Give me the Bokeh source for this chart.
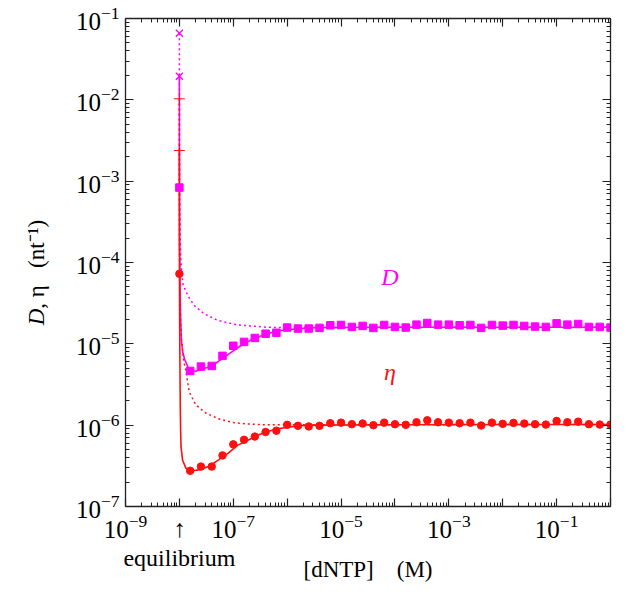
import numpy as np
from bokeh.plotting import figure
from bokeh.models import (LogAxis, FixedTicker, Label, Range1d, CustomJSTickFormatter)
from bokeh.embed import file_html
from bokeh.resources import INLINE

# ---------------- data ----------------
EQ = 1e-8  # equilibrium [dNTP] (M)

data_logx = [-8.0, -7.8, -7.6, -7.4, -7.2, -7.0, -6.8, -6.6, -6.4, -6.2, -6.0,
             -5.8, -5.6, -5.4, -5.2, -5.0, -4.8, -4.6, -4.4, -4.2, -4.0,
             -3.8, -3.6, -3.4, -3.2, -3.0, -2.8, -2.6, -2.4, -2.2, -2.0,
             -1.8, -1.6, -1.4, -1.2, -1.0, -0.8, -0.6, -0.4, -0.2, 0.0]
D_logy = [-3.079, -5.333, -5.280, -5.272, -5.148, -5.024, -4.976, -4.928, -4.876, -4.864, -4.800,
          -4.812, -4.812, -4.804, -4.772, -4.768, -4.792, -4.780, -4.804, -4.768, -4.792,
          -4.800, -4.764, -4.744, -4.764, -4.764, -4.772, -4.768, -4.804, -4.768, -4.776,
          -4.768, -4.780, -4.788, -4.792, -4.748, -4.764, -4.756, -4.792, -4.792, -4.800]
eta_logy = [-4.139, -6.561, -6.509, -6.509, -6.372, -6.236, -6.180, -6.140, -6.084, -6.068, -5.996,
            -6.008, -6.016, -6.008, -5.976, -5.969, -5.988, -5.980, -6.000, -5.969, -5.988,
            -5.996, -5.964, -5.940, -5.964, -5.969, -5.976, -5.969, -6.004, -5.969, -5.984,
            -5.972, -5.980, -5.988, -5.993, -5.948, -5.964, -5.957, -5.988, -5.993, -5.993]

D_eq_marks = [6.58e-2, 1.95e-2]
eta_eq_marks = [1.03e-2, 2.38e-3]

D_solid_x = [1.0e-8, 1.0003e-8, 1.001e-8, 1.003e-8, 1.01e-8, 1.02e-8, 1.035e-8, 1.05e-8,
             1.087e-8, 1.15e-8, 1.246e-8, 1.53e-8, 2.02e-8, 2.63e-8, 3.98e-8, 6.03e-8,
             1.05e-7, 1.59e-7, 2.41e-7, 4.19e-7, 7.26e-7, 1.27e-6, 2.52e-6, 4.40e-6,
             1e-4, 1e-2, 1.0]
D_solid_y = [1.95e-2, 6.7e-3, 2.0e-3, 6.7e-4, 2.0e-4, 8.5e-5, 3.8e-5, 2.2e-5,
             1.13e-5, 8.0e-6, 6.5e-6, 4.7e-6, 4.61e-6, 4.91e-6, 5.30e-6, 6.49e-6,
             8.39e-6, 1.01e-5, 1.16e-5, 1.33e-5, 1.46e-5, 1.51e-5, 1.57e-5, 1.585e-5,
             1.60e-5, 1.60e-5, 1.60e-5]
D_dot_x = [1.0e-8, 1.0003e-8, 1.001e-8, 1.003e-8, 1.01e-8, 1.03e-8, 1.06e-8, 1.1e-8,
           1.166e-8, 1.435e-8, 1.89e-8, 2.86e-8, 4.98e-8, 1.14e-7, 2.09e-7, 4.19e-7,
           8.37e-7, 1e-4, 1e-2, 1.0]
D_dot_y = [6.58e-2, 2.1e-2, 6.3e-3, 2.1e-3, 6.4e-4, 2.2e-4, 1.2e-4, 7.8e-5,
           5.4e-5, 3.9e-5, 2.96e-5, 2.35e-5, 1.96e-5, 1.71e-5, 1.66e-5, 1.60e-5,
           1.585e-5, 1.60e-5, 1.60e-5, 1.60e-5]
eta_solid_x = [1.0e-8, 1.0003e-8, 1.001e-8, 1.003e-8, 1.01e-8, 1.02e-8, 1.03e-8, 1.04e-8,
               1.055e-8, 1.073e-8, 1.147e-8, 1.32e-8, 1.74e-8, 2.29e-8, 3.48e-8, 5.26e-8,
               7.96e-8, 1.20e-7, 1.82e-7, 2.76e-7, 4.19e-7, 6.34e-7, 9.59e-7, 1.67e-6,
               3.33e-6, 1e-4, 1e-2, 1.0]
eta_solid_y = [2.38e-3, 8.0e-4, 2.4e-4, 8.0e-5, 2.4e-5, 8.0e-6, 3.2e-6, 1.6e-6,
               8.5e-7, 5.4e-7, 3.7e-7, 2.96e-7, 2.75e-7, 2.82e-7, 3.10e-7, 3.72e-7,
               4.49e-7, 5.64e-7, 6.47e-7, 7.45e-7, 8.32e-7, 8.95e-7, 9.35e-7, 9.82e-7,
               1.0e-6, 1.01e-6, 1.02e-6, 1.02e-6]
eta_dot_x = [1.0e-8, 1.0003e-8, 1.001e-8, 1.003e-8, 1.01e-8, 1.03e-8, 1.06e-8, 1.1e-8,
             1.2e-8, 1.337e-8, 1.515e-8, 2.0e-8, 3.03e-8, 5.26e-8, 1.05e-7, 2.09e-7,
             4.19e-7, 1e-4, 1e-2, 1.0]
eta_dot_y = [1.03e-2, 3.3e-3, 1.0e-3, 3.3e-4, 1.0e-4, 3.4e-5, 1.75e-5, 1.1e-5,
             6.2e-6, 4.49e-6, 2.58e-6, 1.79e-6, 1.42e-6, 1.20e-6, 1.07e-6, 1.03e-6,
             1.01e-6, 1.01e-6, 1.02e-6, 1.02e-6]

x_decades = [1e-9, 1e-8, 1e-7, 1e-6, 1e-5, 1e-4, 1e-3, 1e-2, 1e-1, 1.0]
x_unlabeled = [1e-6, 1e-4, 1e-2, 1.0]
y_decades = [1e-7, 1e-6, 1e-5, 1e-4, 1e-3, 1e-2, 1e-1]
mantissas = [2, 3, 4, 5, 6, 7, 8, 9]
x_title = "[dNTP]\u00a0\u00a0\u00a0\u00a0(M)"
eq_text = "equilibrium"
eq_arrow = "\u2191"

# ---------------- layout (canvas pixels) ----------------
FL, FR, FT, BOTTOM = 125, 610, 18, 77
W, H = 612, 584


def rx(px):  # reference-picture x pixel -> data
    return 10 ** (-9 + (px - 124.7) / 55.5)


def ry(py):  # reference-picture y pixel -> data
    return 10 ** (-1 - (py - 17.8) / 83.3)


SERIF = "Liberation Serif"
MAG = "#ff00ff"
RED = "#ff1010"
INK = "#222222"

p = figure(width=W, height=H, x_axis_type="log", y_axis_type="log",
           x_range=Range1d(1e-9, 1.0), y_range=Range1d(1e-7, 1e-1),
           output_backend="svg", toolbar_location=None,
           min_border_left=FL, min_border_right=W - FR,
           min_border_top=FT, min_border_bottom=BOTTOM)
p.xgrid.visible = False
p.ygrid.visible = False
p.outline_line_color = None
p.background_fill_color = "white"
p.border_fill_color = "white"

x_minor = [m * d for d in x_decades[:-1] for m in mantissas]
y_minor = [m * d for d in y_decades[:-1] for m in mantissas]


def style_axis(ax, labels=True):
    ax.axis_line_color = INK
    ax.axis_line_width = 1.3
    ax.major_tick_line_color = INK
    ax.minor_tick_line_color = INK
    ax.major_tick_line_width = 1.2
    ax.minor_tick_line_width = 1.0
    ax.major_tick_in = 8
    ax.major_tick_out = 0
    ax.minor_tick_in = 4
    ax.minor_tick_out = 0
    ax.major_label_text_font = SERIF
    ax.major_label_text_color = "black"
    if labels:
        ax.major_label_text_font_size = "25px"
    else:
        ax.formatter = CustomJSTickFormatter(code="return '';")
        ax.major_label_text_font_size = "1px"
        ax.major_label_standoff = 0


xa = p.xaxis[0]
xa.ticker = FixedTicker(ticks=x_decades, minor_ticks=x_minor)
style_axis(xa)
xa.major_label_standoff = 8
overrides = {v: " " for v in x_unlabeled}
overrides[EQ] = eq_arrow
xa.major_label_overrides = overrides

# second, bare axis under the first: the word "equilibrium" and the axis title
eqax = LogAxis(ticker=FixedTicker(ticks=[EQ], minor_ticks=[]))
eqax.axis_line_color = None
eqax.minor_tick_line_color = None
eqax.major_tick_line_color = None
eqax.major_tick_in = 0
eqax.major_tick_out = 0
eqax.major_label_overrides = {EQ: eq_text}
eqax.major_label_text_font = SERIF
eqax.major_label_text_font_size = "24px"
eqax.major_label_text_color = "black"
eqax.major_label_standoff = 0
eqax.axis_label = x_title
eqax.axis_label_text_font = SERIF
eqax.axis_label_text_font_style = "normal"
eqax.axis_label_text_font_size = "23px"
eqax.axis_label_text_color = "black"
eqax.axis_label_standoff = -17
p.add_layout(eqax, "below")

ya = p.yaxis[0]
ya.ticker = FixedTicker(ticks=y_decades, minor_ticks=y_minor)
style_axis(ya)
ya.major_label_standoff = 6

top = LogAxis(ticker=FixedTicker(ticks=x_decades, minor_ticks=x_minor))
style_axis(top, labels=False)
p.add_layout(top, "above")
right = LogAxis(ticker=FixedTicker(ticks=y_decades, minor_ticks=y_minor))
style_axis(right, labels=False)
p.add_layout(right, "right")

# ---------------- curves ----------------
p.line(D_dot_x, D_dot_y, line_color=MAG, line_width=1.5, line_dash="2 3")
p.line(D_solid_x, D_solid_y, line_color=MAG, line_width=1.6)
p.line(eta_dot_x, eta_dot_y, line_color=RED, line_width=1.5, line_dash="2 3")
p.line(eta_solid_x, eta_solid_y, line_color=RED, line_width=1.6)

data_x = [10 ** v for v in data_logx]
p.scatter(data_x, [10 ** v for v in D_logy], marker="square", size=7.5,
          fill_color=MAG, line_color=MAG)
p.scatter(data_x, [10 ** v for v in eta_logy], marker="circle", size=7.5,
          fill_color=RED, line_color=RED)
p.scatter([EQ] * len(D_eq_marks), D_eq_marks, marker="x", size=10,
          line_color=MAG, line_width=1.3)
p.scatter([EQ] * len(eta_eq_marks), eta_eq_marks, marker="cross", size=11,
          line_color=RED, line_width=1.0)

# ---------------- texts ----------------
p.add_layout(Label(x=rx(397), y=ry(283), text="D", text_font=SERIF,
                   text_font_style="italic", text_font_size="24px", text_color=MAG,
                   text_align="center", text_baseline="middle"))
p.add_layout(Label(x=rx(397), y=ry(380), text="η", text_font=SERIF,
                   text_font_style="italic", text_font_size="24px", text_color=RED,
                   text_align="center", text_baseline="middle"))

p.add_layout(Label(x=rx(33), y=ry(315), text="D", text_font=SERIF,
                   text_font_style="italic", text_font_size="23px", text_color="black",
                   text_align="right", text_baseline="middle", angle=np.pi / 2), "left")
p.add_layout(Label(x=rx(33), y=ry(315), text=",\u00a0η\u00a0\u00a0\u00a0(nt\u207b\u00b9)",
                   text_font=SERIF, text_font_size="23px", text_color="black",
                   text_align="left", text_baseline="middle", angle=np.pi / 2), "left")

open("out.html", "w").write(file_html(p, INLINE))
